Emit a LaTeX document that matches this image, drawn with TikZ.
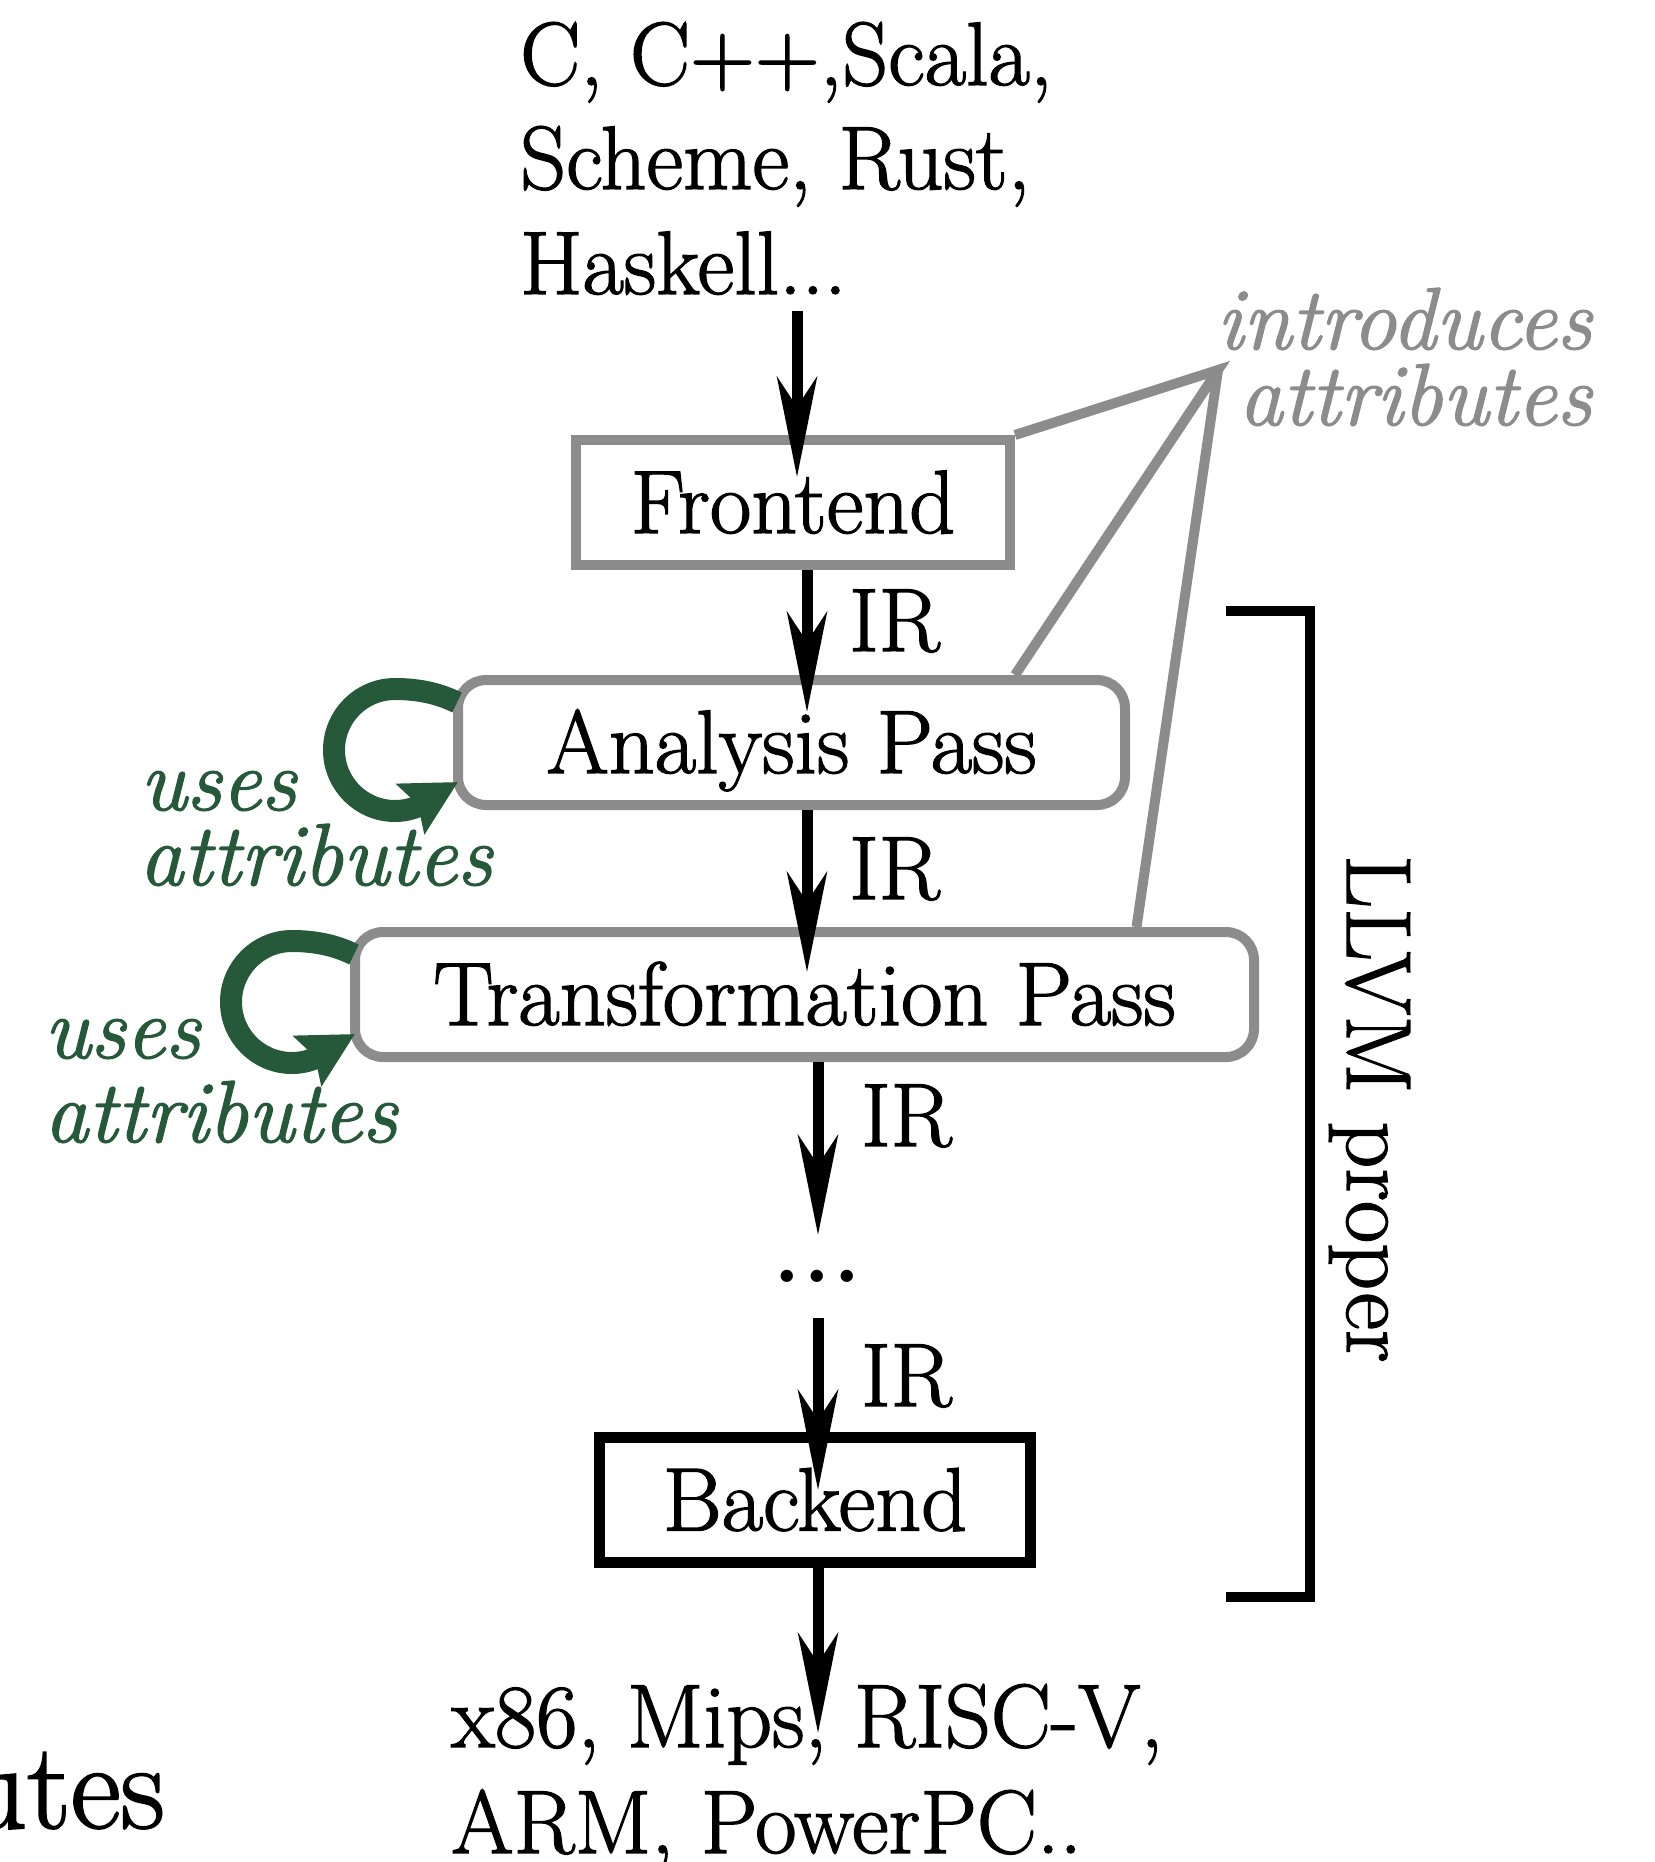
\documentclass[tikz,border=0pt]{standalone}
\usepackage{fontspec}
\usetikzlibrary{arrows.meta,calc}
\definecolor{grayc}{RGB}{140,140,140}
\definecolor{greenc}{RGB}{38,88,58}
\newfontfamily\heavyfam{Latin Modern Roman}[FakeBold=1.5]
\newcommand\mainsize{\heavyfam\fontsize{90}{100}\selectfont}
\newcommand\itsize{\heavyfam\fontsize{88}{100}\selectfont\itshape}
\begin{document}
\begin{tikzpicture}[x=1pt,y=-1pt,
  txt/.style={inner sep=0pt, font=\mainsize},
  lbl/.style={txt, anchor=base west},
  gbox/.style={draw=grayc, line width=10pt, fill=white, inner sep=0pt, font=\mainsize, text height=61pt, text depth=0pt, minimum height=125pt},
  rbox/.style={gbox, rounded corners=28pt},
  bbox/.style={gbox, draw=black, line width=11pt},
  arr/.style={line width=11pt, -{Stealth[length=100pt,width=40pt,inset=30pt]}},
  gline/.style={draw=grayc, line width=10pt},
  uloop/.style={draw=greenc, line width=22pt, -{Stealth[length=54pt,width=56pt,inset=8pt]}},
  gtxt/.style={inner sep=0pt, font=\itsize, text=greenc, anchor=base west},
  itxt/.style={inner sep=0pt, font=\itsize, text=grayc, anchor=base east},
  brk/.style={draw=black, line width=10pt}
]
\useasboundingbox (0,0) rectangle (1654,1862);

% source languages
\node[lbl] (src1) at (520,85) {C, C++,Scala,};
\node[lbl] (src2) at (520,189) {Scheme, Rust,};
\node[lbl] (src3) at (520,294) {Haskell...};

% boxes
\node[gbox, minimum width=434pt] (front) at (793,502.5) {Frontend};
\node[rbox, minimum width=667pt] (ana) at (791.5,742.5) {Analysis Pass};
\node[rbox, minimum width=899pt] (trans) at (804.5,994.5) {Transformation Pass};
\node[bbox, minimum width=431pt] (back) at (815,1500) {Backend};

% dots
\node[inner sep=0pt, font=\fontsize{150}{150}\selectfont] (dots) at (817,1276) {.\kern-7.5pt.\kern-7.5pt.};

% IR labels
\node[lbl] (ir1) at (849,651) {IR};
\node[lbl] (ir2) at (849,899) {IR};
\node[lbl] (ir3) at (861,1146) {IR};
\node[lbl] (ir4) at (861,1406) {IR};

% targets
\node[lbl] (out1) at (451,1747) {x86, Mips, RISC-V,};
\node[lbl] (out2) at (451,1853) {ARM, PowerPC..};

% introduces attributes
\node[itxt] (intro1) at (1592,349) {introduces};
\node[itxt] (intro2) at (1592,425) {attributes};
\coordinate (conv) at (1218,370);

% LLVM proper
\node[inner sep=0pt, font={\heavyfam\fontsize{92}{100}\selectfont}, rotate=-90, anchor=base west] (llvm) at (1347,855) {LLVM proper};

% cut-off text
\node[inner sep=0pt, font={\heavyfam\fontsize{123}{130}\selectfont}, anchor=base east] (utes) at (165,1828) {utes};

% gray lines
\draw[gline] (front.north east) -- (conv) -- (ana.north -| front.north east);
\draw[gline] (conv) -- ($(trans.north)+(332,0)$);

% bracket
\coordinate (brTL) at (1226,611);
\coordinate (brBL) at (1226,1597);
\draw[brk] (brTL) -- ++(84,0) |- (brBL);

% main arrows
\coordinate (inA) at (797,311);
\draw[arr] (inA) -- ($(inA |- front.north)+(0,42)$);
\coordinate (a2) at ($(front.south)+(14,0)$);
\draw[arr] (a2) -- ($(a2 |- ana.north)+(0,37)$);
\coordinate (a3) at ($(ana.south)+(15.5,0)$);
\draw[arr] (a3) -- ($(a3 |- trans.north)+(0,45)$);
\coordinate (a4) at ($(trans.south)+(13.5,0)$);
\draw[arr] (a4) -- ($(a4 |- dots.center)+(0,-41)$);
\draw[arr] ($(a4 |- dots.center)+(0,42)$) -- ($(a4 |- back.north)+(0,58)$);
\draw[arr] (a4 |- back.south) -- ($(a4 |- back.south)+(0,165)$);

% green loops
\begin{scope}[shift={(ana.west)}]
\draw[uloop] (4,-40) .. controls (-13,-48.5) and (-33,-53.5) .. (-58,-53.5)
  .. controls (-91.7,-53.5) and (-119,-26.2) .. (-119,7.5)
  .. controls (-119,41.2) and (-91.7,68.5) .. (-58,68.5)
  .. controls (-33,68.5) and (-18,52.5) .. (5,39.5);
\end{scope}
\begin{scope}[shift={(trans.west)}]
\draw[uloop] (4,-40) .. controls (-13,-48.5) and (-33,-53.5) .. (-58,-53.5)
  .. controls (-91.7,-53.5) and (-119,-26.2) .. (-119,7.5)
  .. controls (-119,41.2) and (-91.7,68.5) .. (-58,68.5)
  .. controls (-33,68.5) and (-18,52.5) .. (5,39.5);
\end{scope}
\node[gtxt] (usesA) at ($(ana.west)+(-313,67.5)$) {uses};
\node[gtxt] (attrA) at ($(ana.west)+(-314,142.5)$) {attributes};
\node[gtxt] (usesB) at ($(trans.west)+(-306,63.5)$) {uses};
\node[gtxt] (attrB) at ($(trans.west)+(-306,147.5)$) {attributes};
\end{tikzpicture}
\end{document}
